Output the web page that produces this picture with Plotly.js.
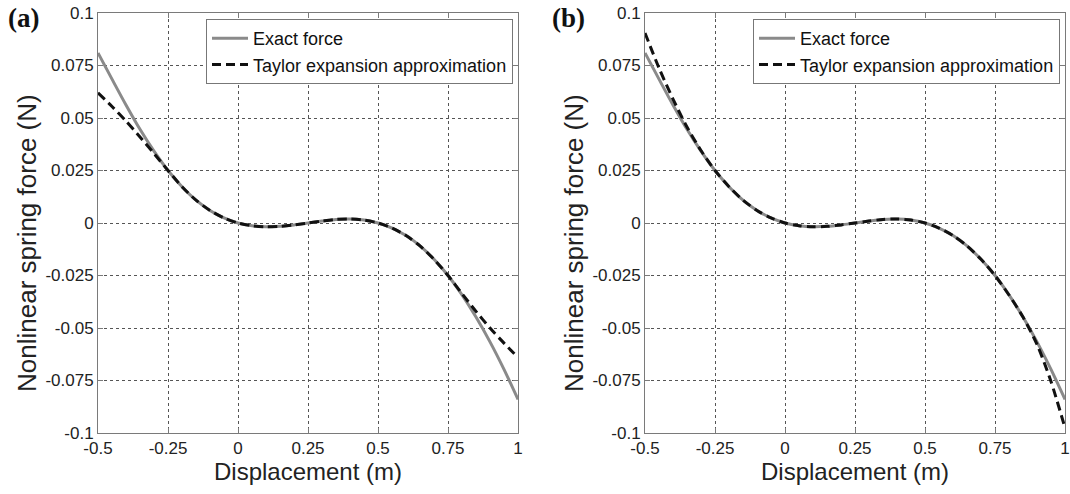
<!DOCTYPE html>
<html>
<head>
<meta charset="utf-8">
<script src="https://cdn.plot.ly/plotly-3.0.1.min.js"></script>
<style>html,body{margin:0;padding:0;background:#fff;}#chart{width:1070px;height:494px;}</style>
</head>
<body>
<div id="chart"></div>
<script>
// Displacement (m)
const displacement = [-0.5,-0.45,-0.4,-0.35,-0.3,-0.25,-0.2,-0.15,-0.1,-0.05,0,0.05,0.1,0.15,0.2,0.25,0.3,0.35,0.4,0.45,0.5,0.55,0.6,0.65,0.7,0.75,0.8,0.85,0.9,0.95,1];
// Exact nonlinear spring force (N), same in both panels
const exactForce = [0.081,0.0685,0.0562,0.0446,0.0342,0.0250,0.0173,0.0109,0.0060,0.0024,0,-0.0013,-0.0018,-0.0016,-0.0009,0,0.0009,0.0017,0.0019,0.0014,0,-0.0024,-0.0060,-0.0109,-0.0173,-0.0250,-0.0342,-0.0448,-0.0566,-0.0697,-0.0840];
// Taylor expansion approximation, panel (a)
const taylorA = [0.062,0.0555,0.0485,0.0410,0.0331,0.0250,0.0173,0.0109,0.0060,0.0024,0,-0.0013,-0.0018,-0.0016,-0.0009,0,0.0009,0.0017,0.0019,0.0014,0,-0.0024,-0.0060,-0.0109,-0.0173,-0.0250,-0.0336,-0.0421,-0.0500,-0.0572,-0.0640];
// Taylor expansion approximation, panel (b)
const taylorB = [0.0905,0.0738,0.0590,0.0457,0.0345,0.0250,0.0173,0.0109,0.0060,0.0024,0,-0.0013,-0.0018,-0.0016,-0.0009,0,0.0009,0.0017,0.0019,0.0014,0,-0.0024,-0.0060,-0.0109,-0.0173,-0.0250,-0.0343,-0.0448,-0.0578,-0.0755,-0.0976];

const xTickVals = [-0.5,-0.25,0,0.25,0.5,0.75,1];
const xTickText = ['-0.5','-0.25','0','0.25','0.5','0.75','1'];
const yTickVals = [-0.1,-0.075,-0.05,-0.025,0,0.025,0.05,0.075,0.1];
const yTickText = ['-0.1','-0.075','-0.05','-0.025','0','0.025','0.05','0.075','0.1'];
const seriesNames = ['Exact force','Taylor expansion approximation'];
const panelLabels = ['(a)','(b)'];
const xTitle = 'Displacement (m)';
const yTitle = 'Nonlinear spring force (N)';

const exactStyle = {color:'#8a8a8a', width:3, shape:'spline', smoothing:0.8};
const taylorStyle = {color:'#111111', width:3, dash:'9px,5px', shape:'spline', smoothing:0.8};

const traces = [
  {x:displacement, y:exactForce, mode:'lines', name:seriesNames[0], line:exactStyle, xaxis:'x', yaxis:'y', legend:'legend'},
  {x:displacement, y:taylorA, mode:'lines', name:seriesNames[1], line:taylorStyle, xaxis:'x', yaxis:'y', legend:'legend'},
  {x:displacement, y:exactForce, mode:'lines', name:seriesNames[0], line:exactStyle, xaxis:'x2', yaxis:'y2', legend:'legend2'},
  {x:displacement, y:taylorB, mode:'lines', name:seriesNames[1], line:taylorStyle, xaxis:'x2', yaxis:'y2', legend:'legend2'}
];

const font = 'Liberation Sans, Arial, sans-serif';
function xAx(domain, anchor){
  return {domain:domain, anchor:anchor, range:[-0.5,1], tickvals:xTickVals, ticktext:xTickText,
    showline:true, linecolor:'#7a7a7a', linewidth:1, mirror:'ticks', ticks:'inside', ticklen:5, tickcolor:'#7a7a7a',
    showgrid:true, gridcolor:'#555', griddash:'dot', gridwidth:1, zeroline:false,
    tickfont:{family:font, size:17, color:'#222'}, automargin:false,
    title:{text:xTitle, font:{family:font, size:24, color:'#222'}, standoff:1}};
}
function yAx(domain, anchor){
  return {domain:domain, anchor:anchor, range:[-0.1,0.1], tickvals:yTickVals, ticktext:yTickText,
    showline:true, linecolor:'#7a7a7a', linewidth:1, mirror:'ticks', ticks:'inside', ticklen:5, tickcolor:'#7a7a7a',
    showgrid:true, gridcolor:'#555', griddash:'dot', gridwidth:1, zeroline:false,
    tickfont:{family:font, size:17, color:'#222'}, automargin:false};
}
const W = 1070, H = 494;
const yDom = [1-433/H, 1-13/H];
const legendBase = {bgcolor:'#fff', bordercolor:'#777', borderwidth:1, font:{family:font, size:18, color:'#111'},
  itemwidth:36, tracegroupgap:0, yanchor:'top', xanchor:'left', y:1-19/H};
const yTitleFont = {family:font, size:26, color:'#222'};
const labelFont = {family:'Liberation Serif, Times New Roman, serif', size:27, color:'#111'};
const layout = {
  width:W, height:H, margin:{l:0,r:0,t:0,b:0}, paper_bgcolor:'#fff', plot_bgcolor:'#fff', showlegend:true,
  xaxis:xAx([98/W, 518/W],'y'), yaxis:yAx(yDom,'x'),
  xaxis2:xAx([645/W, 1065/W],'y2'), yaxis2:yAx(yDom,'x2'),
  legend:Object.assign({}, legendBase, {x:206/W}),
  legend2:Object.assign({}, legendBase, {x:753/W}),
  annotations:[
    {text:yTitle, textangle:-90, xref:'paper', yref:'paper', x:27/W, y:1-243/H, xanchor:'center', yanchor:'middle', showarrow:false, font:yTitleFont},
    {text:yTitle, textangle:-90, xref:'paper', yref:'paper', x:574/W, y:1-243/H, xanchor:'center', yanchor:'middle', showarrow:false, font:yTitleFont},
    {text:'<b>'+panelLabels[0]+'</b>', xref:'paper', yref:'paper', x:24/W, y:1-18/H, xanchor:'center', yanchor:'middle', showarrow:false, font:labelFont},
    {text:'<b>'+panelLabels[1]+'</b>', xref:'paper', yref:'paper', x:568/W, y:1-18/H, xanchor:'center', yanchor:'middle', showarrow:false, font:labelFont}
  ]
};
Plotly.newPlot('chart', traces, layout, {displayModeBar:false, staticPlot:true});
</script>
</body>
</html>
